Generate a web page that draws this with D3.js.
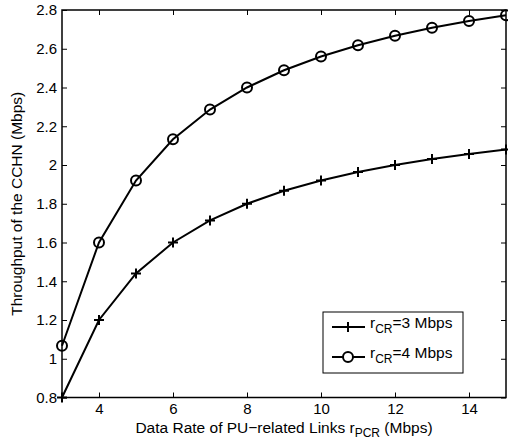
<!DOCTYPE html>
<html>
<head>
<meta charset="utf-8">
<script src="https://cdn.jsdelivr.net/npm/d3@7"></script>
<style>
  body { margin: 0; background: #fff; }
  text { font-family: "Liberation Sans", Arial, sans-serif; }
</style>
</head>
<body>
<svg id="chart" width="508" height="445"></svg>
<script>
// data
const rates = [3, 4, 5, 6, 7, 8, 9, 10, 11, 12, 13, 14, 15];
const cr3 = [0.8, 1.2, 1.44, 1.6, 1.714, 1.8, 1.867, 1.92, 1.964, 2.0, 2.031, 2.057, 2.08];
const cr4 = [1.067, 1.6, 1.92, 2.133, 2.286, 2.4, 2.489, 2.56, 2.618, 2.667, 2.708, 2.743, 2.773];
const xTicks = [4, 6, 8, 10, 12, 14];
const yTicks = [0.8, 1, 1.2, 1.4, 1.6, 1.8, 2, 2.2, 2.4, 2.6, 2.8];

const svg = d3.select("#chart"),
      margin = { top: 10, right: 2, bottom: 47.5, left: 62 },
      width = +svg.attr("width") - margin.left - margin.right,
      height = +svg.attr("height") - margin.top - margin.bottom;

const g = svg.append("g").attr("transform", `translate(${margin.left},${margin.top})`);

const x = d3.scaleLinear().domain([3, 15]).range([0, width]);
const y = d3.scaleLinear().domain([0.8, 2.8]).range([height, 0]);

const fmt = d => String(+d.toFixed(1));

// axes with inward ticks
const ax = (sel) => {
  sel.selectAll(".domain").remove();
  sel.selectAll("text").style("font-size", "15px").attr("fill", "#000");
  sel.selectAll("line").attr("stroke", "#000");
};

g.append("g").attr("transform", `translate(0,${height})`)
  .call(d3.axisBottom(x).tickValues(xTicks).tickSizeInner(-5).tickSizeOuter(0).tickPadding(6).tickFormat(fmt))
  .call(ax);
g.append("g")
  .call(d3.axisTop(x).tickValues(xTicks).tickSizeInner(-5).tickSizeOuter(0).tickFormat(""))
  .call(ax);
g.append("g")
  .call(d3.axisLeft(y).tickValues(yTicks).tickSizeInner(-5).tickSizeOuter(0).tickPadding(5).tickFormat(fmt))
  .call(ax);
g.append("g").attr("transform", `translate(${width},0)`)
  .call(d3.axisRight(y).tickValues(yTicks).tickSizeInner(-5).tickSizeOuter(0).tickFormat(""))
  .call(ax);

// frame
g.append("rect").attr("width", width).attr("height", height)
  .attr("fill", "none").attr("stroke", "#000").attr("stroke-width", 1.5);

const line = d3.line().x((d, i) => x(rates[i])).y(d => y(d));

g.append("path").datum(cr3).attr("d", line)
  .attr("fill", "none").attr("stroke", "#000").attr("stroke-width", 2);
g.append("path").datum(cr4).attr("d", line)
  .attr("fill", "none").attr("stroke", "#000").attr("stroke-width", 2);

// markers
const plus = (sel, cx, cy) => {
  sel.append("path").attr("d", `M${cx - 5},${cy}H${cx + 5}M${cx},${cy - 5}V${cy + 5}`)
    .attr("stroke", "#000").attr("stroke-width", 2);
};
cr3.forEach((v, i) => plus(g, x(rates[i]), y(v)));
g.selectAll(".circ").data(cr4).enter().append("circle")
  .attr("cx", (d, i) => x(rates[i])).attr("cy", d => y(d)).attr("r", 5)
  .attr("fill", "none").attr("stroke", "#000").attr("stroke-width", 2);

// axis labels
svg.append("text").attr("x", margin.left + width / 2).attr("y", 433)
  .attr("text-anchor", "middle").style("font-size", "15.5px")
  .html('Data Rate of PU−related Links r<tspan dy="4" font-size="12px">PCR</tspan><tspan dy="-4"> (Mbps)</tspan>');
svg.append("text").attr("transform", `translate(22,${margin.top + height / 2}) rotate(-90)`)
  .attr("text-anchor", "middle").style("font-size", "15.5px")
  .text("Throughput of the CCHN (Mbps)");

// legend
const lg = svg.append("g").attr("transform", "translate(323,312)");
lg.append("rect").attr("width", 140).attr("height", 61)
  .attr("fill", "#fff").attr("stroke", "#000").attr("stroke-width", 1);
const entries = [{ label: "3 Mbps", m: "plus" }, { label: "4 Mbps", m: "circle" }];
entries.forEach((e, i) => {
  const yy = 15 + i * 30;
  lg.append("line").attr("x1", 9).attr("x2", 42).attr("y1", yy).attr("y2", yy)
    .attr("stroke", "#000").attr("stroke-width", 2);
  if (e.m === "plus") plus(lg, 25, yy);
  else lg.append("circle").attr("cx", 25).attr("cy", yy).attr("r", 5)
    .attr("fill", "#fff").attr("stroke", "#000").attr("stroke-width", 2);
  lg.append("text").attr("x", 47).attr("y", yy + 1).style("font-size", "15.5px")
    .html(`r<tspan dy="5" font-size="12px">CR</tspan><tspan dy="-5">=${e.label}</tspan>`);
});
</script>
</body>
</html>
